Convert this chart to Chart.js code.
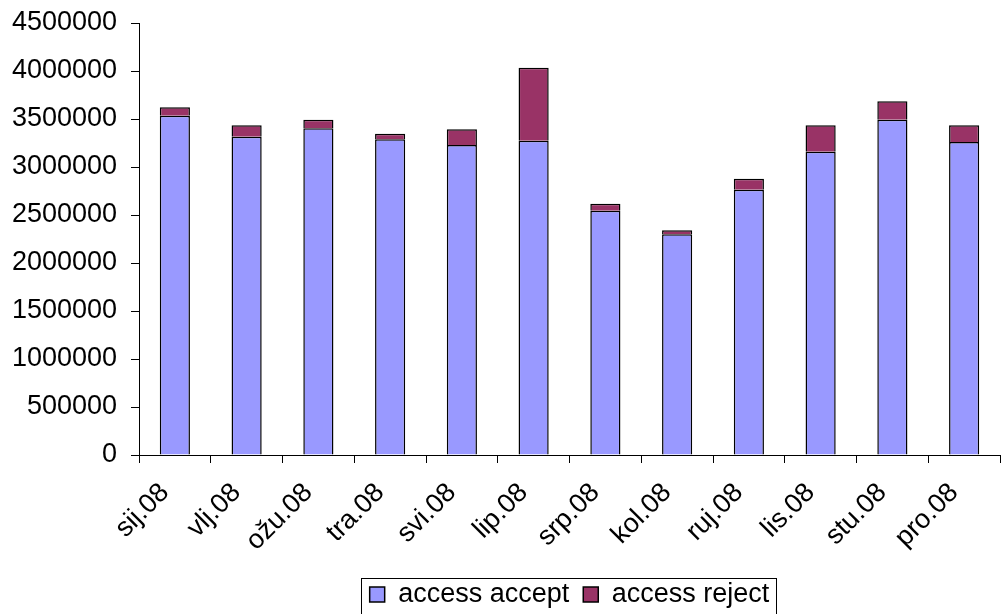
<!DOCTYPE html>
<html>
<head>
<meta charset="utf-8">
<script src="https://cdn.jsdelivr.net/npm/chart.js@4/dist/chart.umd.min.js"></script>
<style>
  html, body { margin: 0; padding: 0; background: #fff; }
</style>
</head>
<body>
<canvas id="accessChart" width="1002" height="614"></canvas>
<script>
const months  = ['sij.08', 'vlj.08', 'ožu.08', 'tra.08', 'svi.08', 'lip.08', 'srp.08', 'kol.08', 'ruj.08', 'lis.08', 'stu.08', 'pro.08'];
const accept  = [3534000, 3316000, 3403000, 3288000, 3229000, 3274000, 2545000, 2299000, 2764000, 3160000, 3493000, 3261000];
const reject  = [88000, 118000, 90000, 59000, 164000, 761000, 73000, 41000, 114000, 274000, 191000, 173000];
const yTicks  = [0, 500000, 1000000, 1500000, 2000000, 2500000, 3000000, 3500000, 4000000, 4500000];

const FONT = '"Liberation Sans", Arial, sans-serif';

// cornice attorno alla legenda
const legendBox = {
    id: 'legendBox',
    afterDraw(chart) {
        const boxes = chart.legend.legendHitBoxes;
        if (!boxes || !boxes.length) return;
        const left   = Math.min(...boxes.map(b => b.left)) - 9;
        const right  = Math.max(...boxes.map(b => b.left + b.width)) + 6;
        const top    = Math.min(...boxes.map(b => b.top)) - 3;
        const bottom = Math.max(...boxes.map(b => b.top + b.height)) + 6;
        const ctx = chart.ctx;
        ctx.save();
        ctx.strokeStyle = '#000';
        ctx.lineWidth = 1;
        ctx.strokeRect(Math.round(left) + 0.5, Math.round(top) + 0.5, Math.round(right - left), Math.round(bottom - top));
        ctx.restore();
    }
};

new Chart(document.getElementById('accessChart'), {
    type: 'bar',
    data: {
        labels: months,
        datasets: [{
            label: 'access accept',
            data: accept,
            backgroundColor: '#9999FF',
            borderColor: '#000',
            borderWidth: 1.5,
            barPercentage: 0.42,
            categoryPercentage: 1,
        }, {
            label: 'access reject',
            data: reject,
            backgroundColor: '#993366',
            borderColor: '#000',
            borderWidth: 1.5,
            barPercentage: 0.42,
            categoryPercentage: 1,
        }]
    },
    options: {
        responsive: false,
        animation: false,
        layout: { padding: { top: 23, right: 2, left: 0, bottom: -4 } },
        scales: {
            x: {
                stacked: true,
                offset: true,
                grid: {
                    offset: true,
                    drawOnChartArea: false,
                    color: '#000',
                    tickLength: 8,
                },
                border: { color: '#000' },
                ticks: {
                    color: '#000',
                    font: { family: FONT, size: 27 },
                    minRotation: 45,
                    maxRotation: 45,
                    padding: 14,
                    labelOffset: -10,
                },
                afterFit: s => { s.height = 112; }
            },
            y: {
                stacked: true,
                min: 0,
                max: 4500000,
                afterBuildTicks: s => { s.ticks = yTicks.map(v => ({ value: v })); },
                grid: {
                    drawOnChartArea: false,
                    color: '#000',
                    tickLength: 8,
                },
                border: { color: '#000' },
                ticks: {
                    color: '#000',
                    font: { family: FONT, size: 27 },
                    padding: 14,
                    callback: v => String(v),
                },
                afterFit: s => {
                    s.width = 139;
                    s.paddingTop = 0;
                    s.paddingBottom = 0;
                }
            }
        },
        plugins: {
            legend: {
                display: true,
                position: 'bottom',
                fullSize: false,
                labels: {
                    color: '#000',
                    font: { family: FONT, size: 27 },
                    boxWidth: 15,
                    boxHeight: 15,
                    padding: 14,
                    useBorderRadius: false,
                },
            },
            tooltip: { enabled: false },
        }
    },
    plugins: [legendBox]
});
</script>
</body>
</html>
